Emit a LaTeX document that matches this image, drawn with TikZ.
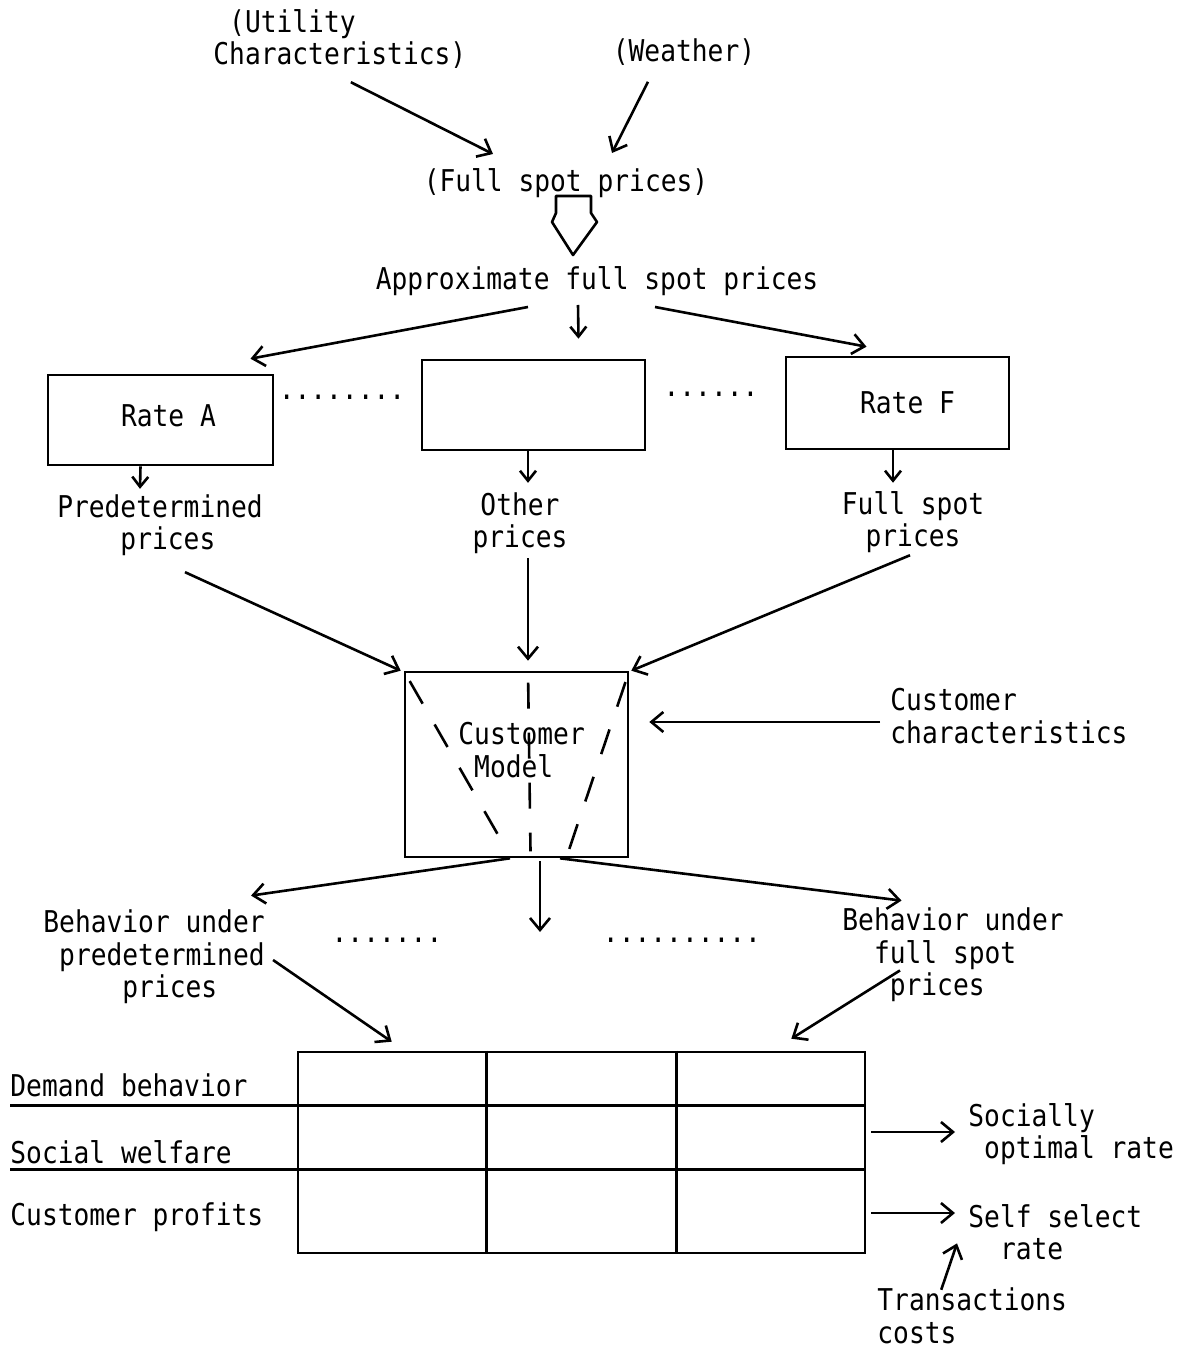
\documentclass[tikz,border=0pt]{standalone}
\usepackage{fontspec}
\usepackage{tikz}
\usetikzlibrary{arrows.meta,calc}
\newfontfamily\typefont[FakeStretch=0.875]{DejaVu Sans Mono}

\tikzset{
    txt/.style={font=\typefont\fontsize{15}{16.25}\selectfont, inner sep=0pt},
    box/.style={draw, line width=1.3pt, inner sep=0pt},
    arr/.style={line width=1.3pt, -{Straight Barb[length=6pt,width=10pt]}},
    sarr/.style={line width=1.3pt, -{Straight Barb[length=5pt,width=8pt]}},
    fan/.style={line width=1.3pt, dash pattern=on 13pt off 12pt, dash phase=-6pt},
}

\begin{document}
\begin{tikzpicture}[x=0.5pt,y=0.5pt,yscale=-1,xscale=1]
    \useasboundingbox (0,0) rectangle (1188,1352);

    % Text Node
    \node[txt, anchor=north west, align=left] (util) at (213,9) {\phantom{x}(Utility\\Characteristics)};
    % Text Node
    \node[txt] (weather) at (684,52) {(Weather)};
    % Text Node
    \node[txt] (full) at (566,183) {(Full spot prices)};
    % Text Node
    \node[txt] (approx) at (597,281) {Approximate full spot prices};

    % Shape: Rectangle
    \node[box, minimum width=112.5pt, minimum height=45pt, txt] (rateA) at (160.5,420) {\raisebox{4pt}{\hspace*{8pt}Rate A}};
    % Shape: Rectangle
    \node[box, minimum width=111.5pt, minimum height=45pt] (mid) at (533.5,405) {};
    % Shape: Rectangle
    \node[box, minimum width=111.5pt, minimum height=46pt, txt] (rateF) at (897.5,403) {\raisebox{-2pt}{\hspace*{10pt}Rate F}};
    % Text Node
    \node[txt] (dotsA) at (342,397) {........};
    % Text Node
    \node[txt] (dotsB) at (711,394) {......};

    % Text Node
    \node[txt, align=left] (pred) at (160,525) {Predetermined\\\phantom{xxxx}prices};
    % Text Node
    \node[txt, align=center] (other) at (520,523) {Other\\prices};
    % Text Node
    \node[txt, align=center] (fspot) at (913,522) {Full spot\\prices};

    % Shape: Rectangle
    \node[box, minimum width=111.5pt, minimum height=92.5pt] (cm) at (516.5,764.5) {};
    % Text Node
    \node[txt, anchor=west, align=left] (cmtxt) at (458,750) {Customer\\\phantom{x}Model};
    % Text Node
    \node[txt, anchor=west, align=left] (cchar) at (890,716) {Customer\\characteristics};

    % Text Node
    \node[txt, anchor=west, align=left] (bpred) at (43,957) {Behavior under\\\phantom{x}predetermined\\\phantom{xxxxx}prices};
    % Text Node
    \node[txt] (dotsC) at (387,940) {.......};
    % Text Node
    \node[txt] (dotsD) at (682,940) {..........};
    % Text Node
    \node[txt, anchor=west, align=left] (bfull) at (842,955) {Behavior under\\\phantom{xx}full spot\\\phantom{xxx}prices};
    \coordinate (cmdown) at (540,932);

    % Shape: Rectangle
    \node[box, minimum width=283.5pt, minimum height=100.5pt] (tab) at (581.5,1152.5) {};
    % Text Node
    \node[txt, anchor=west] (dem) at (10,1085) {Demand behavior};
    % Text Node
    \node[txt, anchor=west] (soc) at (10,1152) {Social welfare};
    % Text Node
    \node[txt, anchor=west] (cust) at (10,1217) {Customer profits};
    % Text Node
    \node[txt, anchor=west, align=left] (socopt) at (968,1134) {Socially\\\phantom{x}optimal rate};
    % Text Node
    \node[txt, anchor=west, align=left] (selfsel) at (968,1232) {Self select\\\phantom{xx}rate};
    % Text Node
    \node[txt, anchor=west, align=left] (trans) at (877,1316) {Transactions\\costs};

    %Straight Lines
    \coordinate (r1) at ($(tab.north west)!0.269!(tab.south west)$);
    \coordinate (r2) at ($(tab.north west)!0.582!(tab.south west)$);
    \draw[line width=1.3pt] (dem.west |- r1) -- (tab.east |- r1);
    \draw[line width=1.3pt] (dem.west |- r2) -- (tab.east |- r2);
    \draw[line width=1.3pt] ($(tab.north west)!1/3!(tab.north east)$) -- ($(tab.south west)!1/3!(tab.south east)$);
    \draw[line width=1.3pt] ($(tab.north west)!2/3!(tab.north east)$) -- ($(tab.south west)!2/3!(tab.south east)$);

    %Straight Lines
    \draw[arr] ([shift={(11,13)}]util.south) -- ([shift={(-73,-14)}]full.north);
    \draw[arr] ([shift={(-36,16)}]weather.south) -- ([shift={(46,-15)}]full.north);
    %Shape: hollow arrow
    \draw[line width=1.3pt, line join=round] (full.south) ++(-10,-2) -- ++(35,0) -- ++(0,17) -- ++(6,9) -- ++(-24,33) -- ++(-21,-33) -- ++(4,-9) -- cycle;

    %Straight Lines
    \draw[arr] ([shift={(-69,11)}]approx.south) -- ([shift={(90,-15)}]rateA.north);
    \draw[sarr] ([shift={(-19,9)}]approx.south) -- ([shift={(45,-20)}]mid.north);
    \draw[arr] ([shift={(58,11)}]approx.south) -- ([shift={(-31,-9)}]rateF.north);
    \draw[sarr] ([shift={(-20,0)}]rateA.south) -- ([shift={(-20,-5)}]pred.north);
    \draw[sarr] ([shift={(-5.5,0)}]mid.south) -- ([shift={(8,-9)}]other.north);
    \draw[sarr] ([shift={(-4.5,0)}]rateF.south) -- ([shift={(-20,-8)}]fspot.north);

    %Straight Lines
    \draw[arr] ([shift={(25,16)}]pred.south) -- ([shift={(-3,0)}]cm.north west);
    \draw[arr] ([shift={(8,4)}]other.south) -- ([shift={(11.5,-10)}]cm.north);
    \draw[arr] ([shift={(-3,2)}]fspot.south) -- ([shift={(2,0)}]cm.north east);
    \draw[arr] ([shift={(-10,6)}]cchar.west) -- ([shift={(20,-42.5)}]cm.east);
    %Dashed fan
    \draw[fan] (cm.north west) -- ([shift={(-9,-7)}]cm.south);
    \draw[fan] ([shift={(11.5,0)}]cm.north) -- ([shift={(14,-7)}]cm.south);
    \draw[fan] (cm.north east) -- ([shift={(52,-7)}]cm.south);

    %Straight Lines
    \draw[arr] ([shift={(-6.5,0)}]cm.south) -- ([shift={(97,-14)}]bpred.north);
    \draw[arr] ([shift={(23.5,3)}]cm.south) -- (cmdown);
    \draw[arr] ([shift={(43.5,0)}]cm.south) -- ([shift={(-51.5,-7)}]bfull.north);
    \draw[arr] ([shift={(8,3)}]bpred.east) -- ([shift={(95,-9)}]tab.north west);
    \draw[arr] ([shift={(58,-32)}]bfull.south west) -- ([shift={(-75,-12)}]tab.north east);

    %Straight Lines
    \draw[arr] ([shift={(5,-20.5)}]tab.east) -- ([shift={(-13,-2)}]socopt.west);
    \draw[arr] ([shift={(5,60.5)}]tab.east) -- ([shift={(-13,-19)}]selfsel.west);
    \draw[arr] ([shift={(-31,2)}]trans.north) -- ([shift={(-11,-17)}]selfsel.south west);

\end{tikzpicture}
\end{document}
